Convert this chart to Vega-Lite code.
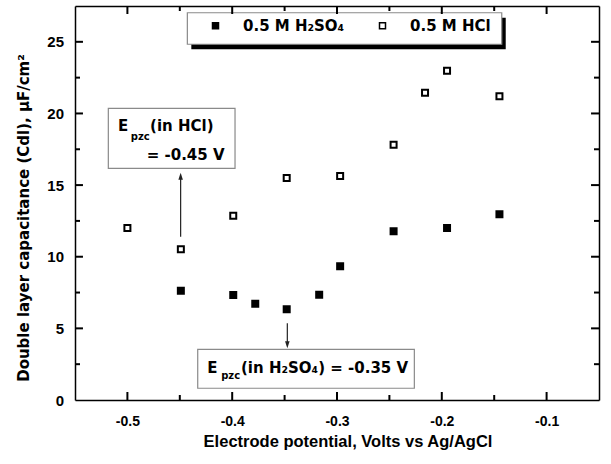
{
  "$schema": "https://vega.github.io/schema/vega-lite/v6.json",
  "width": 524,
  "height": 394,
  "autosize": {"type": "none"},
  "padding": {"left": 75, "top": 6, "right": 12, "bottom": 64},
  "background": "white",
  "config": {
    "view": {"stroke": null},
    "axis": {
      "grid": false,
      "domainColor": "black",
      "domainWidth": 1.5,
      "labelColor": "black",
      "titleColor": "black",
      "labelFont": "Liberation Sans",
      "labelFontWeight": "bold",
      "titleFontWeight": "bold",
      "labelOverlap": false,
      "labelFlush": false
    }
  },
  "datasets": {
    "cdl": [
      {"electrolyte": "0.5 M H₂SO₄", "potential": -0.449, "cdl": 7.63},
      {"electrolyte": "0.5 M H₂SO₄", "potential": -0.399, "cdl": 7.33},
      {"electrolyte": "0.5 M H₂SO₄", "potential": -0.378, "cdl": 6.72},
      {"electrolyte": "0.5 M H₂SO₄", "potential": -0.348, "cdl": 6.33},
      {"electrolyte": "0.5 M H₂SO₄", "potential": -0.317, "cdl": 7.35},
      {"electrolyte": "0.5 M H₂SO₄", "potential": -0.297, "cdl": 9.33},
      {"electrolyte": "0.5 M H₂SO₄", "potential": -0.246, "cdl": 11.78},
      {"electrolyte": "0.5 M H₂SO₄", "potential": -0.195, "cdl": 12.0},
      {"electrolyte": "0.5 M H₂SO₄", "potential": -0.145, "cdl": 12.96},
      {"electrolyte": "0.5 M HCl", "potential": -0.5, "cdl": 12.0},
      {"electrolyte": "0.5 M HCl", "potential": -0.449, "cdl": 10.52},
      {"electrolyte": "0.5 M HCl", "potential": -0.399, "cdl": 12.86},
      {"electrolyte": "0.5 M HCl", "potential": -0.348, "cdl": 15.5},
      {"electrolyte": "0.5 M HCl", "potential": -0.297, "cdl": 15.63},
      {"electrolyte": "0.5 M HCl", "potential": -0.246, "cdl": 17.82},
      {"electrolyte": "0.5 M HCl", "potential": -0.216, "cdl": 21.45},
      {"electrolyte": "0.5 M HCl", "potential": -0.195, "cdl": 22.98},
      {"electrolyte": "0.5 M HCl", "potential": -0.145, "cdl": 21.2}
    ],
    "xticks": [
      {"v": -0.5, "kind": "major"}, {"v": -0.45, "kind": "minor"},
      {"v": -0.4, "kind": "major"}, {"v": -0.35, "kind": "minor"},
      {"v": -0.3, "kind": "major"}, {"v": -0.25, "kind": "minor"},
      {"v": -0.2, "kind": "major"}, {"v": -0.15, "kind": "minor"},
      {"v": -0.1, "kind": "major"}
    ],
    "yticks": [
      {"v": 2.5, "kind": "minor"}, {"v": 5, "kind": "major"},
      {"v": 7.5, "kind": "minor"}, {"v": 10, "kind": "major"},
      {"v": 12.5, "kind": "minor"}, {"v": 15, "kind": "major"},
      {"v": 17.5, "kind": "minor"}, {"v": 20, "kind": "major"},
      {"v": 22.5, "kind": "minor"}, {"v": 25, "kind": "major"}
    ]
  },
  "layer": [
    {
      "data": {"values": [{}]},
      "mark": {"type": "rect", "fill": "black"},
      "encoding": {
        "x": {"datum": -0.439, "type": "quantitative", "scale": {"domain": [-0.55, -0.05], "nice": false, "zero": false},
          "axis": {"orient": "top", "values": [-0.5], "labels": false, "title": null, "ticks": false, "domain": true}},
        "x2": {"datum": -0.139},
        "y": {"datum": 26.68, "type": "quantitative", "scale": {"domain": [0, 27.5], "nice": false, "zero": false},
          "axis": {"orient": "right", "values": [5], "labels": false, "title": null, "ticks": false, "domain": true}},
        "y2": {"datum": 24.48}
      }
    },
    {
      "data": {"values": [{}]},
      "mark": {"type": "rect", "fill": "white", "stroke": "#8a8a8a", "strokeWidth": 1.2},
      "encoding": {
        "x": {"datum": -0.4428, "type": "quantitative", "scale": {"domain": [-0.55, -0.05], "nice": false, "zero": false}, "axis": null},
        "x2": {"datum": -0.1428},
        "y": {"datum": 27.03, "type": "quantitative", "scale": {"domain": [0, 27.5], "nice": false, "zero": false}, "axis": null},
        "y2": {"datum": 24.83}
      }
    },
    {
      "data": {"values": [{}]},
      "mark": {"type": "rect", "fill": "white", "stroke": "#8a8a8a", "strokeWidth": 1.2},
      "encoding": {
        "x": {"datum": -0.5182, "type": "quantitative", "scale": {"domain": [-0.55, -0.05], "nice": false, "zero": false}, "axis": null},
        "x2": {"datum": -0.3973},
        "y": {"datum": 20.36, "type": "quantitative", "scale": {"domain": [0, 27.5], "nice": false, "zero": false}, "axis": null},
        "y2": {"datum": 16.17}
      }
    },
    {
      "data": {"values": [{}]},
      "mark": {"type": "rect", "fill": "white", "stroke": "#8a8a8a", "strokeWidth": 1.2},
      "encoding": {
        "x": {"datum": -0.4329, "type": "quantitative", "scale": {"domain": [-0.55, -0.05], "nice": false, "zero": false}, "axis": null},
        "x2": {"datum": -0.2262},
        "y": {"datum": 3.54, "type": "quantitative", "scale": {"domain": [0, 27.5], "nice": false, "zero": false}, "axis": null},
        "y2": {"datum": 0.82}
      }
    },
    {
      "data": {"name": "xticks"},
      "transform": [{"filter": "datum.kind == 'major'"}],
      "mark": {"type": "rule", "color": "black", "strokeWidth": 2},
      "encoding": {
        "x": {"field": "v", "type": "quantitative", "scale": {"domain": [-0.55, -0.05], "nice": false, "zero": false}, "axis": null},
        "y": {"datum": 0, "type": "quantitative", "scale": {"domain": [0, 27.5], "nice": false, "zero": false}, "axis": null},
        "y2": {"datum": 0.56}
      }
    },
    {
      "data": {"name": "xticks"},
      "transform": [{"filter": "datum.kind == 'minor'"}],
      "mark": {"type": "rule", "color": "black", "strokeWidth": 2},
      "encoding": {
        "x": {"field": "v", "type": "quantitative", "scale": {"domain": [-0.55, -0.05], "nice": false, "zero": false}, "axis": null},
        "y": {"datum": 0, "type": "quantitative", "scale": {"domain": [0, 27.5], "nice": false, "zero": false}, "axis": null},
        "y2": {"datum": 0.35}
      }
    },
    {
      "data": {"name": "xticks"},
      "transform": [{"filter": "datum.kind == 'major'"}],
      "mark": {"type": "rule", "color": "black", "strokeWidth": 2},
      "encoding": {
        "x": {"field": "v", "type": "quantitative", "scale": {"domain": [-0.55, -0.05], "nice": false, "zero": false}, "axis": null},
        "y": {"datum": 27.5, "type": "quantitative", "scale": {"domain": [0, 27.5], "nice": false, "zero": false}, "axis": null},
        "y2": {"datum": 26.94}
      }
    },
    {
      "data": {"name": "xticks"},
      "transform": [{"filter": "datum.kind == 'minor'"}],
      "mark": {"type": "rule", "color": "black", "strokeWidth": 2},
      "encoding": {
        "x": {"field": "v", "type": "quantitative", "scale": {"domain": [-0.55, -0.05], "nice": false, "zero": false}, "axis": null},
        "y": {"datum": 27.5, "type": "quantitative", "scale": {"domain": [0, 27.5], "nice": false, "zero": false}, "axis": null},
        "y2": {"datum": 27.15}
      }
    },
    {
      "data": {"name": "yticks"},
      "transform": [{"filter": "datum.kind == 'major'"}],
      "mark": {"type": "rule", "color": "black", "strokeWidth": 2},
      "encoding": {
        "y": {"field": "v", "type": "quantitative", "scale": {"domain": [0, 27.5], "nice": false, "zero": false}, "axis": null},
        "x": {"datum": -0.55, "type": "quantitative", "scale": {"domain": [-0.55, -0.05], "nice": false, "zero": false}, "axis": null},
        "x2": {"datum": -0.5424}
      }
    },
    {
      "data": {"name": "yticks"},
      "transform": [{"filter": "datum.kind == 'minor'"}],
      "mark": {"type": "rule", "color": "black", "strokeWidth": 2},
      "encoding": {
        "y": {"field": "v", "type": "quantitative", "scale": {"domain": [0, 27.5], "nice": false, "zero": false}, "axis": null},
        "x": {"datum": -0.55, "type": "quantitative", "scale": {"domain": [-0.55, -0.05], "nice": false, "zero": false}, "axis": null},
        "x2": {"datum": -0.5452}
      }
    },
    {
      "data": {"name": "yticks"},
      "transform": [{"filter": "datum.kind == 'major'"}],
      "mark": {"type": "rule", "color": "black", "strokeWidth": 2},
      "encoding": {
        "y": {"field": "v", "type": "quantitative", "scale": {"domain": [0, 27.5], "nice": false, "zero": false}, "axis": null},
        "x": {"datum": -0.05, "type": "quantitative", "scale": {"domain": [-0.55, -0.05], "nice": false, "zero": false}, "axis": null},
        "x2": {"datum": -0.0576}
      }
    },
    {
      "data": {"name": "yticks"},
      "transform": [{"filter": "datum.kind == 'minor'"}],
      "mark": {"type": "rule", "color": "black", "strokeWidth": 2},
      "encoding": {
        "y": {"field": "v", "type": "quantitative", "scale": {"domain": [0, 27.5], "nice": false, "zero": false}, "axis": null},
        "x": {"datum": -0.05, "type": "quantitative", "scale": {"domain": [-0.55, -0.05], "nice": false, "zero": false}, "axis": null},
        "x2": {"datum": -0.0548}
      }
    },
    {
      "data": {"values": [{}]},
      "mark": {"type": "text", "text": "E", "font": "DejaVu Sans", "fontSize": 15, "fontWeight": "bold", "align": "left", "baseline": "alphabetic", "color": "black"},
      "encoding": {
        "x": {"datum": -0.509, "type": "quantitative", "scale": {"domain": [-0.55, -0.05], "nice": false, "zero": false}, "axis": null},
        "y": {"datum": 18.77, "type": "quantitative", "scale": {"domain": [0, 27.5], "nice": false, "zero": false}, "axis": null}
      }
    },
    {
      "data": {"values": [{}]},
      "mark": {"type": "text", "text": "pzc", "font": "DejaVu Sans", "fontSize": 10, "fontWeight": "bold", "align": "left", "baseline": "alphabetic", "color": "black"},
      "encoding": {
        "x": {"datum": -0.4967, "type": "quantitative", "scale": {"domain": [-0.55, -0.05], "nice": false, "zero": false}, "axis": null},
        "y": {"datum": 18.15, "type": "quantitative", "scale": {"domain": [0, 27.5], "nice": false, "zero": false}, "axis": null}
      }
    },
    {
      "data": {"values": [{}]},
      "mark": {"type": "text", "text": "(in HCl)", "font": "DejaVu Sans", "fontSize": 15, "fontWeight": "bold", "align": "left", "baseline": "alphabetic", "color": "black"},
      "encoding": {
        "x": {"datum": -0.4784, "type": "quantitative", "scale": {"domain": [-0.55, -0.05], "nice": false, "zero": false}, "axis": null},
        "y": {"datum": 18.77, "type": "quantitative", "scale": {"domain": [0, 27.5], "nice": false, "zero": false}, "axis": null}
      }
    },
    {
      "data": {"values": [{}]},
      "mark": {"type": "text", "text": "= -0.45 V", "font": "DejaVu Sans", "fontSize": 15, "fontWeight": "bold", "align": "left", "baseline": "alphabetic", "color": "black"},
      "encoding": {
        "x": {"datum": -0.4816, "type": "quantitative", "scale": {"domain": [-0.55, -0.05], "nice": false, "zero": false}, "axis": null},
        "y": {"datum": 16.75, "type": "quantitative", "scale": {"domain": [0, 27.5], "nice": false, "zero": false}, "axis": null}
      }
    },
    {
      "data": {"values": [{}]},
      "mark": {"type": "text", "text": "E", "font": "DejaVu Sans", "fontSize": 15, "fontWeight": "bold", "align": "left", "baseline": "alphabetic", "color": "black"},
      "encoding": {
        "x": {"datum": -0.4238, "type": "quantitative", "scale": {"domain": [-0.55, -0.05], "nice": false, "zero": false}, "axis": null},
        "y": {"datum": 1.86, "type": "quantitative", "scale": {"domain": [0, 27.5], "nice": false, "zero": false}, "axis": null}
      }
    },
    {
      "data": {"values": [{}]},
      "mark": {"type": "text", "text": "pzc", "font": "DejaVu Sans", "fontSize": 10, "fontWeight": "bold", "align": "left", "baseline": "alphabetic", "color": "black"},
      "encoding": {
        "x": {"datum": -0.4105, "type": "quantitative", "scale": {"domain": [-0.55, -0.05], "nice": false, "zero": false}, "axis": null},
        "y": {"datum": 1.5, "type": "quantitative", "scale": {"domain": [0, 27.5], "nice": false, "zero": false}, "axis": null}
      }
    },
    {
      "data": {"values": [{}]},
      "mark": {"type": "text", "text": "(in H₂SO₄) = -0.35 V", "font": "DejaVu Sans", "fontSize": 15, "fontWeight": "bold", "align": "left", "baseline": "alphabetic", "color": "black"},
      "encoding": {
        "x": {"datum": -0.3916, "type": "quantitative", "scale": {"domain": [-0.55, -0.05], "nice": false, "zero": false}, "axis": null},
        "y": {"datum": 1.86, "type": "quantitative", "scale": {"domain": [0, 27.5], "nice": false, "zero": false}, "axis": null}
      }
    },
    {
      "data": {"values": [{}]},
      "mark": {"type": "rule", "color": "#222222", "strokeWidth": 1.2},
      "encoding": {
        "x": {"datum": -0.4492, "type": "quantitative", "scale": {"domain": [-0.55, -0.05], "nice": false, "zero": false}, "axis": null},
        "y": {"datum": 11.4, "type": "quantitative", "scale": {"domain": [0, 27.5], "nice": false, "zero": false}, "axis": null},
        "y2": {"datum": 15.5}
      }
    },
    {
      "data": {"values": [{}]},
      "mark": {"type": "point", "shape": "M0,0L0.65,2L-0.65,2Z", "size": 49, "filled": true, "color": "#222222", "opacity": 1},
      "encoding": {
        "x": {"datum": -0.4492, "type": "quantitative", "scale": {"domain": [-0.55, -0.05], "nice": false, "zero": false}, "axis": null},
        "y": {"datum": 15.87, "type": "quantitative", "scale": {"domain": [0, 27.5], "nice": false, "zero": false}, "axis": null}
      }
    },
    {
      "data": {"values": [{}]},
      "mark": {"type": "rule", "color": "#222222", "strokeWidth": 1.2},
      "encoding": {
        "x": {"datum": -0.3474, "type": "quantitative", "scale": {"domain": [-0.55, -0.05], "nice": false, "zero": false}, "axis": null},
        "y": {"datum": 5.35, "type": "quantitative", "scale": {"domain": [0, 27.5], "nice": false, "zero": false}, "axis": null},
        "y2": {"datum": 3.9}
      }
    },
    {
      "data": {"values": [{}]},
      "mark": {"type": "point", "shape": "M0,0L0.65,-2L-0.65,-2Z", "size": 49, "filled": true, "color": "#222222", "opacity": 1},
      "encoding": {
        "x": {"datum": -0.3474, "type": "quantitative", "scale": {"domain": [-0.55, -0.05], "nice": false, "zero": false}, "axis": null},
        "y": {"datum": 3.61, "type": "quantitative", "scale": {"domain": [0, 27.5], "nice": false, "zero": false}, "axis": null}
      }
    },
    {
      "data": {"name": "cdl"},
      "mark": {"type": "point", "shape": "square", "size": 36, "filled": true, "stroke": "black", "strokeWidth": 2, "opacity": 1},
      "encoding": {
        "x": {"field": "potential", "type": "quantitative", "scale": {"domain": [-0.55, -0.05], "nice": false, "zero": false},
          "axis": {"orient": "bottom", "values": [-0.5, -0.4, -0.3, -0.2, -0.1],
            "labelExpr": "'' + datum.value",
            "ticks": false, "domain": true,
            "labelPadding": 14, "labelFontSize": 14,
            "title": "Electrode potential, Volts vs Ag/AgCl", "titleFont": "Liberation Sans", "titleFontSize": 16.5,
            "titleX": 272.5, "titleY": 46, "titleBaseline": "alphabetic", "titleAlign": "center"}},
        "y": {"field": "cdl", "type": "quantitative", "scale": {"domain": [0, 27.5], "nice": false, "zero": false},
          "axis": {"orient": "left", "values": [0, 5, 10, 15, 20, 25],
            "labelExpr": "'' + datum.value",
            "ticks": false, "domain": true,
            "labelPadding": 11.5, "labelFontSize": 15,
            "title": "Double layer capacitance (Cdl), μF/cm²", "titleFont": "DejaVu Sans", "titleFontSize": 15,
            "titleX": -47, "titleY": 211.5, "titleBaseline": "alphabetic", "titleAlign": "center", "titleAngle": 270}},
        "fill": {"field": "electrolyte", "type": "nominal",
          "scale": {"domain": ["0.5 M H₂SO₄", "0.5 M HCl"], "range": ["black", "white"]},
          "legend": {"orient": "none", "legendX": 133, "legendY": 12, "direction": "horizontal", "title": null,
            "labelFont": "DejaVu Sans", "labelFontSize": 15, "labelFontWeight": "bold", "labelColor": "black", "labelLimit": 300,
            "symbolType": "square", "symbolSize": 36, "symbolStrokeWidth": 1.5, "symbolStrokeColor": "black",
            "labelOffset": 20, "columnPadding": 30, "padding": 0}}
      }
    }
  ],
  "resolve": {"axis": {"x": "independent", "y": "independent"}}
}
